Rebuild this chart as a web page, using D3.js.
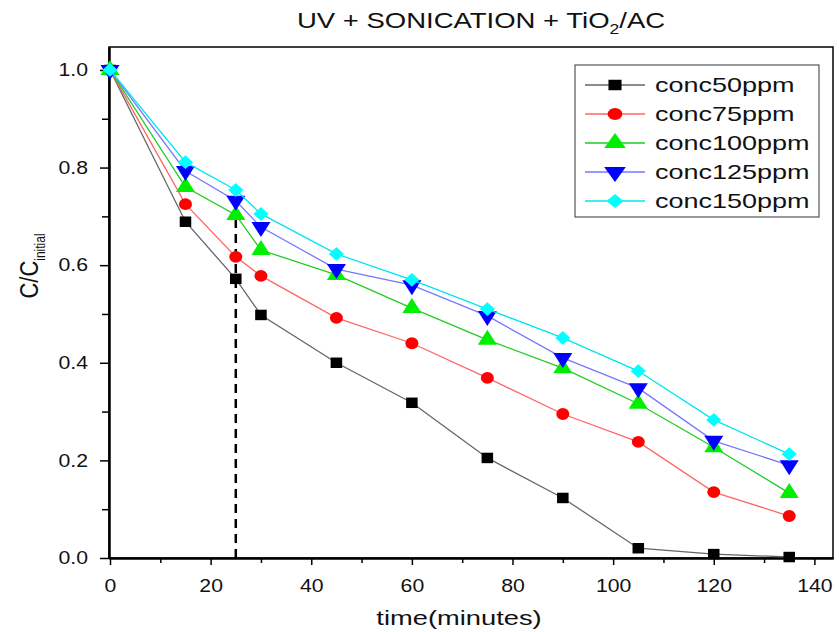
<!DOCTYPE html>
<html>
<head>
<meta charset="utf-8">
<script src="https://cdn.jsdelivr.net/npm/d3@7"></script>
<style>
  body { margin: 0; background: #fff; }
  text { font-family: "Liberation Sans", Arial, sans-serif; }
</style>
</head>
<body>
<div id="chart"></div>
<script>
// time points (minutes)
var times = [0, 15, 25, 30, 45, 60, 75, 90, 105, 120, 135];

var conc50  = [1.0, 0.689, 0.572, 0.498, 0.400, 0.318, 0.205, 0.123, 0.020, 0.008, 0.002];
var conc75  = [1.0, 0.725, 0.617, 0.578, 0.492, 0.440, 0.369, 0.295, 0.238, 0.135, 0.086];
var conc100 = [1.0, 0.760, 0.703, 0.631, 0.580, 0.512, 0.447, 0.389, 0.316, 0.227, 0.133];
var conc125 = [1.0, 0.793, 0.732, 0.678, 0.592, 0.559, 0.496, 0.410, 0.348, 0.240, 0.190];
var conc150 = [1.0, 0.811, 0.754, 0.705, 0.623, 0.570, 0.510, 0.451, 0.383, 0.283, 0.213];

var seriesNames = ["conc50ppm", "conc75ppm", "conc100ppm", "conc125ppm", "conc150ppm"];
var xTicks = [0, 20, 40, 60, 80, 100, 120, 140];
var yTicks = [0.0, 0.2, 0.4, 0.6, 0.8, 1.0];
var markerTime = 25, markerTop = 0.74;

var series = [
  {name: seriesNames[0], values: conc50,  line: "#666666", fill: "#000000", shape: d3.symbolSquare, rot: 0, size: 110},
  {name: seriesNames[1], values: conc75,  line: "#ff6666", fill: "#ff0000", shape: d3.symbolCircle, rot: 0, size: 110},
  {name: seriesNames[2], values: conc100, line: "#22cc22", fill: "#00ee00", shape: d3.symbolTriangle, rot: 0, size: 130},
  {name: seriesNames[3], values: conc125, line: "#7777ff", fill: "#0000ff", shape: d3.symbolTriangle, rot: 180, size: 130},
  {name: seriesNames[4], values: conc150, line: "#00e5ee", fill: "#00ffff", shape: d3.symbolSquare, rot: 45, size: 95}
];

// the original picture is a bit stretched sideways
var sx = 1.18;

var W = 839, H = 632;
var margin = {top: 47, right: 6, bottom: 74, left: 109};

var svg = d3.select("#chart").append("svg")
    .attr("width", W)
    .attr("height", H);

var x = d3.scaleLinear().domain([-0.2, 143.7]).range([margin.left, W - margin.right]);
var y = d3.scaleLinear().domain([0, 1.047]).range([H - margin.bottom, margin.top]);

// frame
svg.append("rect")
    .attr("x", margin.left)
    .attr("y", margin.top)
    .attr("width", W - margin.right - margin.left)
    .attr("height", H - margin.bottom - margin.top)
    .attr("fill", "none")
    .attr("stroke", "#000")
    .attr("stroke-width", 1.5);

// axes
var xAxis = svg.append("g")
    .attr("transform", "translate(0," + (H - margin.bottom) + ")")
    .call(d3.axisBottom(x).tickValues(xTicks).tickSize(7).tickSizeOuter(0).tickPadding(14).tickFormat(d3.format("d")));
svg.append("g")
    .attr("transform", "translate(0," + (H - margin.bottom) + ")")
    .call(d3.axisBottom(x).tickValues(d3.range(10, 141, 20)).tickSize(5).tickSizeOuter(0).tickFormat(""));

var yAxis = svg.append("g")
    .attr("transform", "translate(" + margin.left + ",0)")
    .call(d3.axisLeft(y).tickValues(yTicks).tickSize(9).tickSizeOuter(0).tickFormat(d3.format(".1f")));
svg.append("g")
    .attr("transform", "translate(" + margin.left + ",0)")
    .call(d3.axisLeft(y).tickValues([0.1, 0.3, 0.5, 0.7, 0.9]).tickSize(7).tickSizeOuter(0).tickFormat(""));

svg.selectAll(".domain").attr("stroke-width", 2);
svg.selectAll(".tick line").attr("stroke-width", 1.5);
svg.selectAll(".tick text").style("font-size", "18px").attr("fill", "#111");
xAxis.selectAll(".tick text").attr("transform", "scale(" + sx + ",1)");
yAxis.selectAll(".tick text").attr("x", 0).attr("transform", "translate(-21,0) scale(" + sx + ",1)");

// dashed line at 25 min
svg.append("line")
    .attr("x1", x(markerTime)).attr("x2", x(markerTime))
    .attr("y1", y(0)).attr("y2", y(markerTop))
    .attr("stroke", "#000")
    .attr("stroke-width", 2.5)
    .attr("stroke-dasharray", "9,6");

var line = d3.line()
    .x(function(d, i) { return x(times[i]); })
    .y(function(d) { return y(d); });

var sym = function(s) {
  return d3.symbol().type(s.shape).size(s.size)();
};

series.forEach(function(s) {
  svg.append("path")
      .datum(s.values)
      .attr("d", line)
      .attr("fill", "none")
      .attr("stroke", s.line)
      .attr("stroke-width", 1.3);

  svg.selectAll(null)
      .data(s.values)
      .enter().append("path")
      .attr("d", sym(s))
      .attr("transform", function(d, i) {
        return "translate(" + x(times[i]) + "," + y(d) + ") scale(1.1,1) rotate(" + s.rot + ")";
      })
      .attr("fill", s.fill);
});

// legend
var lg = svg.append("g").attr("transform", "translate(575,65)");
lg.append("rect")
    .attr("width", 244).attr("height", 152)
    .attr("fill", "#fff")
    .attr("stroke", "#555")
    .attr("stroke-width", 1.2);

series.forEach(function(s, i) {
  var row = lg.append("g").attr("transform", "translate(0," + (20 + i * 29) + ")");
  row.append("line")
      .attr("x1", 10).attr("x2", 70)
      .attr("stroke", s.line).attr("stroke-width", 1.3);
  row.append("path")
      .attr("d", sym(s))
      .attr("transform", "translate(40,0) scale(1.25,1) rotate(" + s.rot + ")")
      .attr("fill", s.fill);
  row.append("text")
      .attr("transform", "translate(80,7) scale(1.35,1)")
      .style("font-size", "20px")
      .attr("fill", "#111")
      .text(s.name);
});

// title
var title = svg.append("text")
    .attr("transform", "translate(481,28) scale(1.25,1)")
    .attr("text-anchor", "middle")
    .style("font-size", "22px")
    .attr("fill", "#111");
title.append("tspan").text("UV + SONICATION + TiO");
title.append("tspan").attr("dy", 6).style("font-size", "14px").text("2");
title.append("tspan").attr("dy", -6).text("/AC");

// axis labels
svg.append("text")
    .attr("transform", "translate(459,625) scale(1.3,1)")
    .attr("text-anchor", "middle")
    .style("font-size", "21px")
    .attr("fill", "#111")
    .text("time(minutes)");

var yl = svg.append("text")
    .attr("transform", "translate(38,266) rotate(-90) scale(1,1.2)")
    .attr("text-anchor", "middle")
    .style("font-size", "22px")
    .attr("fill", "#111");
yl.append("tspan").text("C/C");
yl.append("tspan").attr("dy", 6).style("font-size", "12px").text("initial");
</script>
</body>
</html>
